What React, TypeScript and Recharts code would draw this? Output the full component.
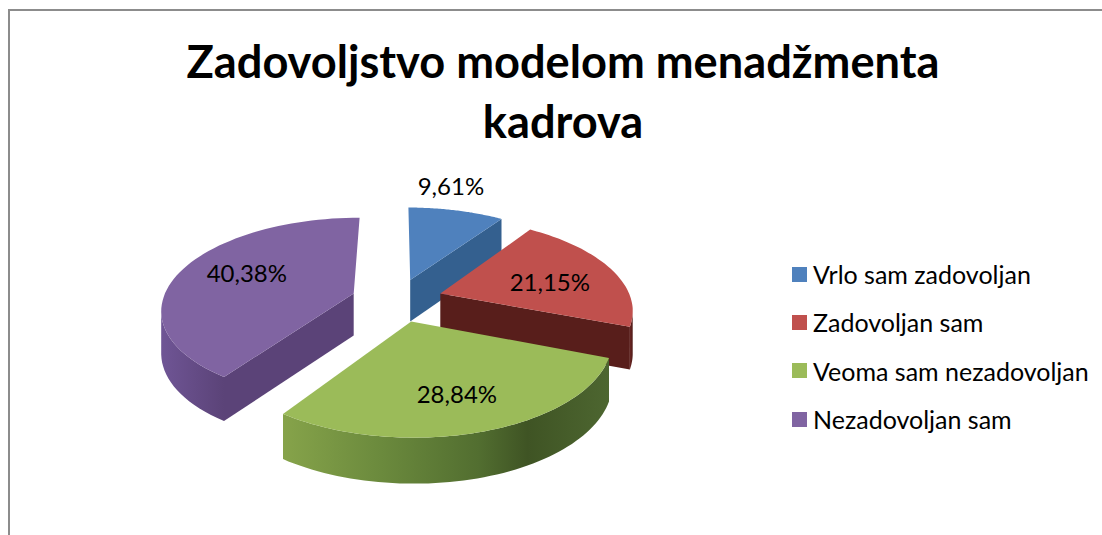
import { Legend, Pie, PieChart } from "recharts"

const categories = ["Vrlo sam zadovoljan", "Zadovoljan sam", "Veoma sam nezadovoljan", "Nezadovoljan sam"]
const values = [9.61, 21.15, 28.84, 40.38]
const colors = ["#4f81bd", "#c0504d", "#9bbb59", "#8064a2"]
const cutColors = ["#34608f", "#581e1b", "#4f6b2e", "#5b4378"]
const titleLines = ["Zadovoljstvo modelom menadžmenta", "kadrova"]

const tableData = categories.map((name, i) => ({ name, value: values[i], fill: colors[i] }))

// fake 3D: flat disc seen in perspective, slices pulled out along their mid angle
const TILT = 90 / 191
const PERSPECTIVE = 0.16
const EXPLODE = 0.24
const labelRadius = [1.44, 0.633, 0.693, 0.617]
const labelShift = [[-22, 0], [0, 4], [-2, 0], [0, -5]]

const rad = (deg: number) => (deg * Math.PI) / 180

function project(cx: number, cy: number, r: number, u: number, v: number) {
    const s = 1 / (1 - PERSPECTIVE * v)
    return { x: cx + u * r * s, y: cy + v * r * TILT * s, depth: 26 + 16 * s }
}

// angles from recharts run counter-clockwise from +x
function slicePoint(p: any, deg: number, f: number) {
    const a = rad(deg)
    const mid = rad(p.midAngle)
    const u = f * Math.cos(a) + EXPLODE * Math.cos(mid)
    const v = -f * Math.sin(a) - EXPLODE * Math.sin(mid)
    return project(p.cx, p.cy, p.outerRadius, u, v)
}

const toPath = (pts: { x: number; y: number }[]) =>
    "M" + pts.map((q) => `${q.x.toFixed(1)},${q.y.toFixed(1)}`).join("L") + "Z"

const down = (q: { x: number; y: number; depth: number }) => ({ x: q.x, y: q.y + q.depth })

function Slice3D(props: any) {
    const i = categories.indexOf(props.name)
    const apex = slicePoint(props, 0, 0)
    const arc = []
    for (let k = 0; k <= 60; k++) {
        arc.push(slicePoint(props, props.startAngle + ((props.endAngle - props.startAngle) * k) / 60, 1))
    }
    let first = -1
    let last = -1
    for (let k = 0; k < 60; k++) {
        if (arc[k + 1].x < arc[k].x) {
            if (first < 0) first = k
            if (last < 0 || last === k) last = k + 1
        }
    }
    const wall = first >= 0 ? arc.slice(first, last + 1) : []
    const start = arc[0]
    const end = arc[60]
    return (
        <g>
            {apex.x - start.x > 15 && (
                <path d={toPath([apex, start, down(start), down(apex)])} fill={cutColors[i]} />
            )}
            {end.x - apex.x > 15 && (
                <path d={toPath([end, apex, down(apex), down(end)])} fill={cutColors[i]} />
            )}
            {wall.length > 0 && (
                <path d={toPath([...wall, ...wall.map(down).reverse()])} fill={`url(#wall${i})`} />
            )}
            <path d={toPath([apex, ...arc])} fill={props.fill} />
        </g>
    )
}

function renderLabel(props: any) {
    const i = categories.indexOf(props.name)
    const q = slicePoint(props, props.midAngle, labelRadius[i])
    return (
        <text
            x={q.x + labelShift[i][0]}
            y={q.y + labelShift[i][1]}
            textAnchor="middle"
            dominantBaseline="central"
            fill="#000"
            fontSize={24}
            fontFamily="Lato"
        >
            {values[i].toFixed(2).replace(".", ",")}%
        </text>
    )
}

function LegendList({ payload }: any) {
    return (
        <div style={{ fontFamily: "Lato", fontSize: 25, color: "#000" }}>
            {(payload || []).map((item: any) => (
                <div key={item.value} style={{ height: 48.3, display: "flex", alignItems: "center" }}>
                    <span style={{ width: 15, height: 15, background: item.color, marginRight: 6, flex: "none" }} />
                    <span style={{ whiteSpace: "nowrap" }}>{item.value}</span>
                </div>
            ))}
        </div>
    )
}

export default function App() {
    return (
        <div style={{ position: "absolute", left: 0, top: 0, width: 1102, height: 535, background: "#fff", overflow: "hidden" }}>
            <div style={{ position: "absolute", left: 8, top: 9, right: 0, bottom: 0, borderTop: "2px solid #8c8c8c", borderLeft: "2px solid #8c8c8c" }} />
            <div
                style={{
                    position: "absolute",
                    left: 0,
                    width: 1126,
                    top: 31,
                    textAlign: "center",
                    fontFamily: "Lato",
                    fontWeight: 700,
                    fontSize: 45.2,
                    lineHeight: "60px",
                    color: "#000",
                }}
            >
                {titleLines.map((line) => (
                    <div key={line}>{line}</div>
                ))}
            </div>
            <div style={{ position: "absolute", left: 0, top: 0 }}>
                <PieChart width={1102} height={535} margin={{ top: 0, right: 0, bottom: 0, left: 0 }}>
                    <defs>
                        <linearGradient id="wall0">
                            <stop offset="0" stopColor="#34608f" />
                        </linearGradient>
                        <linearGradient id="wall1">
                            <stop offset="0" stopColor="#6b2623" />
                            <stop offset="1" stopColor="#4f1b18" />
                        </linearGradient>
                        <linearGradient id="wall2">
                            <stop offset="0" stopColor="#86a34a" />
                            <stop offset="0.3" stopColor="#6b8a3d" />
                            <stop offset="0.6" stopColor="#526e30" />
                            <stop offset="0.75" stopColor="#3f5424" />
                            <stop offset="1" stopColor="#4d6630" />
                        </linearGradient>
                        <linearGradient id="wall3">
                            <stop offset="0" stopColor="#6f5595" />
                            <stop offset="1" stopColor="#5b4378" />
                        </linearGradient>
                    </defs>
                    <Pie
                        data={tableData}
                        dataKey="value"
                        nameKey="name"
                        cx={397}
                        cy={300}
                        outerRadius={191}
                        startAngle={90}
                        endAngle={-270}
                        stroke="none"
                        legendType="square"
                        shape={Slice3D}
                        label={renderLabel}
                        labelLine={false}
                        isAnimationActive={false}
                    />
                    <Legend
                        layout="vertical"
                        align="right"
                        verticalAlign="top"
                        itemSorter={null}
                        content={<LegendList />}
                        wrapperStyle={{ left: 792, top: 250, width: 310 }}
                    />
                </PieChart>
            </div>
        </div>
    )
}
